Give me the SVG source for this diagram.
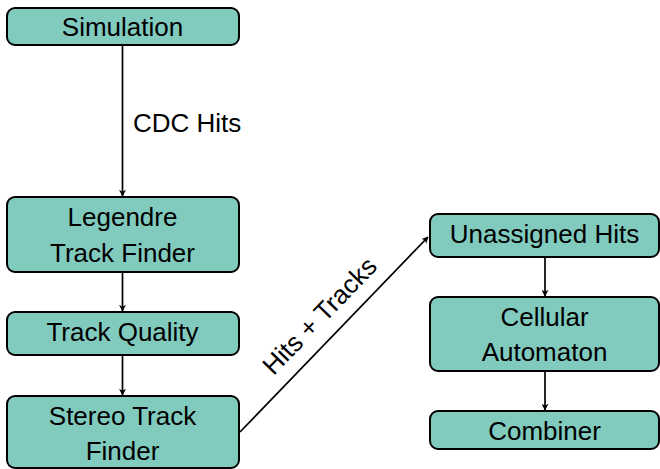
<svg xmlns="http://www.w3.org/2000/svg" width="660" height="469" viewBox="0 0 660 469">
<defs>
<style>
.box{fill:#80cbbe;stroke:#000;stroke-width:2}
.t{font-family:"Liberation Sans",Arial,sans-serif;font-size:26px;fill:#000;text-anchor:middle}
.lbl{font-family:"Liberation Sans",Arial,sans-serif;font-size:26px;fill:#000}
.c{fill:none;stroke:#000;stroke-width:1.7;marker-end:url(#ah)}
</style>
<marker id="ah" viewBox="0 0 10 10" refX="9" refY="5" markerWidth="7" markerHeight="7" markerUnits="userSpaceOnUse" orient="auto">
<path d="M0,0 L10,5 L0,10 L3,5 Z" fill="#000"/>
</marker>
</defs>
<rect width="660" height="469" fill="#fff"/>
<g id="connectors">
<line class="c" x1="122.5" y1="45" x2="122.5" y2="196"/>
<line class="c" x1="122.5" y1="272" x2="122.5" y2="311"/>
<line class="c" x1="122.5" y1="355" x2="122.5" y2="395"/>
<line class="c" x1="240" y1="432" x2="428" y2="237"/>
<line class="c" x1="545" y1="257" x2="545" y2="296"/>
<line class="c" x1="545" y1="371" x2="545" y2="410"/>
<text class="lbl" x="133" y="132">CDC Hits</text>
<text class="lbl" text-anchor="middle" transform="translate(326,322) rotate(-46)">Hits + Tracks</text>
</g>
<g id="simulation">
<rect class="box" x="7" y="8" width="232" height="37" rx="8"/>
<text class="t" x="122.5" y="36">Simulation</text>
</g>
<g id="legendre">
<rect class="box" x="7" y="197" width="232" height="75" rx="8"/>
<text class="t" x="122.5" y="226">Legendre</text>
<text class="t" x="122.5" y="262">Track Finder</text>
</g>
<g id="trackquality">
<rect class="box" x="7" y="312" width="232" height="43" rx="8"/>
<text class="t" x="122.5" y="341">Track Quality</text>
</g>
<g id="stereo">
<rect class="box" x="7" y="396" width="232" height="72" rx="8"/>
<text class="t" x="122.5" y="425">Stereo Track</text>
<text class="t" x="122.5" y="460">Finder</text>
</g>
<g id="unassigned">
<rect class="box" x="430" y="214" width="229" height="43" rx="8"/>
<text class="t" x="544.5" y="243">Unassigned Hits</text>
</g>
<g id="cellular">
<rect class="box" x="430" y="297" width="229" height="74" rx="8"/>
<text class="t" x="544.5" y="326">Cellular</text>
<text class="t" x="544.5" y="361">Automaton</text>
</g>
<g id="combiner">
<rect class="box" x="430" y="411" width="229" height="38" rx="8"/>
<text class="t" x="544.5" y="440">Combiner</text>
</g>
</svg>
